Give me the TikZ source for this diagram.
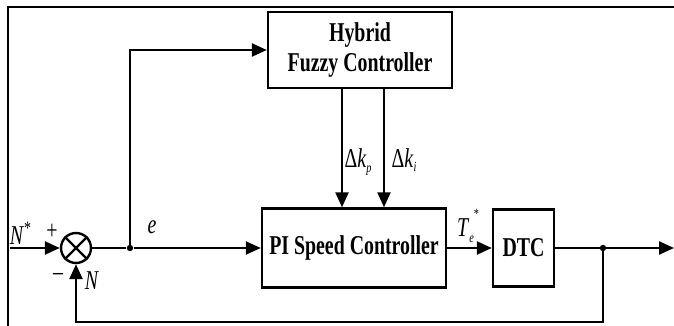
\documentclass[tikz,border=0pt]{standalone}
\usepackage{fontspec}
\setmainfont{Liberation Serif}[FakeStretch=0.73]
\usetikzlibrary{arrows.meta}
\begin{document}
\begin{tikzpicture}[x=0.5pt,y=-0.5pt,
  every node/.style={font=\fontsize{13.6}{16}\selectfont},
  blk/.style={draw,line width=1.2pt,inner sep=0pt,font=\fontsize{13.6}{16}\selectfont\bfseries,align=center},
  arr/.style={line width=1.2pt,-{Triangle[length=7.5pt,width=6.5pt]}},
  ln/.style={line width=1.2pt},
  lbl/.style={inner sep=0pt},
  dotc/.style={circle,fill,inner sep=0pt,minimum size=3.2pt}]
\useasboundingbox (0,0) rectangle (674,326);
\draw[line width=0.8pt] (674,7) -- (8,7) -- (8,326);
% blocks
\node[blk,minimum width=92pt,minimum height=38pt] (hyb) at (360,50) {Hybrid\\[-1pt]Fuzzy Controller};
\node[blk,minimum width=92pt,minimum height=39.5pt] (pi) at (354,248) {PI Speed Controller};
\node[blk,minimum width=30.5pt,minimum height=38.5pt] (dtc) at (523.5,248) {DTC};
\node[draw,circle,line width=1.2pt,minimum size=15pt,inner sep=0pt] (sum) at (76,248) {};
\draw[ln] (sum.north east) -- (sum.south west);
\draw[ln] (sum.north west) -- (sum.south east);
% coordinates
\coordinate (in) at (10,248);
\node[dotc] (br) at (130,248) {};
\node[dotc] (tap) at (603,248) {};
\coordinate (outend) at (674,248);
\coordinate (fb) at (603,322);
\coordinate (xp) at (342,0);
\coordinate (xi) at (384,0);
% connectors
\draw[arr] (in) -- (sum.west);
\draw[ln] (sum.east) -- (br);
\draw[arr] (br) -- (pi.west);
\draw[arr] (br.center) |- (hyb.west);
\draw[arr] (hyb.south -| xp) -- (pi.north -| xp);
\draw[arr] (hyb.south -| xi) -- (pi.north -| xi);
\draw[arr] (pi.east) -- (dtc.west);
\draw[arr] (dtc.east) -- (outend);
\draw[arr] (tap.center) -- (fb) -| (sum.south);
% labels
\node[lbl] (nstar) at (21,233) {\textit{N}\textsuperscript{*}};
\node[lbl] (plus) at (52,232) {+};
\node[lbl] (minus) at (58,277) {\textendash};
\node[lbl] (nlab) at (92,281) {\textit{N}};
\node[lbl] (elab) at (152,227) {\textit{e}};
\node[lbl] (dkp) at (358,162) {Δ\textit{k}\raisebox{-0.35ex}{\scriptsize\textit{p}}};
\node[lbl] (dki) at (404,160) {Δ\textit{k}\raisebox{-0.35ex}{\scriptsize\textit{i}}};
\node[lbl] (te) at (468,226) {\textit{T}\raisebox{-0.5ex}{\scriptsize\textit{e}}\raisebox{1.4ex}{\scriptsize *}};
\end{tikzpicture}
\end{document}
